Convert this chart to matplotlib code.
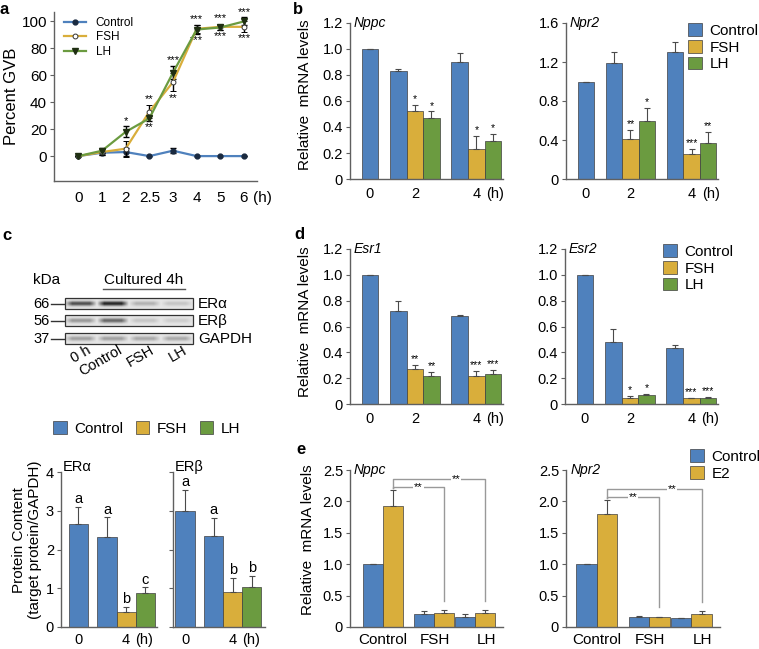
import numpy as np
import matplotlib
matplotlib.use('Agg')
import matplotlib.pyplot as plt
from matplotlib.patches import Patch, Rectangle
from matplotlib.lines import Line2D

plt.rcParams['font.family'] = ['Liberation Sans', 'DejaVu Sans']

W, H = 759, 649

BLUE = '#4f81bd'
GOLD = '#d9ae3b'
GREEN = '#6b9b40'
AXC = '#606060'

# ---- panel a: percent GVB over time
gvb_times = ['0', '1', '2', '2.5', '3', '4', '5', '6']
gvb_control = [0, 2.5, 3, 0, 4, 0, 0, 0]
gvb_control_err = [0, 2, 3, 0, 2, 0, 0, 0]
gvb_fsh = [0, 3, 5.5, 33, 55, 94.5, 96, 96]
gvb_fsh_err = [0, 2, 6, 5, 7, 3, 2, 4]
gvb_lh = [0, 4, 18, 28, 62, 94, 95.5, 100]
gvb_lh_err = [0, 2, 4, 2, 5, 3, 2, 3]
gvb_stars_above = ['', '', '*', '**', '***', '***', '***', '***']
gvb_stars_below = ['', '', '', '**', '**', '***', '***', '***']

# ---- panels b and d: mRNA time course (0, 2, 4 h)
time_labels = ['0', '2', '4']
nppc_ctrl = [1.0, 0.83, 0.90]
nppc_ctrl_err = [0, 0.02, 0.07]
nppc_fsh = [0.52, 0.23]
nppc_fsh_err = [0.05, 0.10]
nppc_lh = [0.47, 0.29]
nppc_lh_err = [0.05, 0.06]
nppc_fsh_stars = ['*', '*']
nppc_lh_stars = ['*', '*']

npr2_ctrl = [1.0, 1.19, 1.30]
npr2_ctrl_err = [0, 0.11, 0.11]
npr2_fsh = [0.41, 0.26]
npr2_fsh_err = [0.09, 0.05]
npr2_lh = [0.59, 0.37]
npr2_lh_err = [0.14, 0.11]
npr2_fsh_stars = ['**', '***']
npr2_lh_stars = ['*', '**']

esr1_ctrl = [1.0, 0.72, 0.68]
esr1_ctrl_err = [0, 0.08, 0.01]
esr1_fsh = [0.27, 0.22]
esr1_fsh_err = [0.03, 0.035]
esr1_lh = [0.22, 0.23]
esr1_lh_err = [0.03, 0.035]
esr1_fsh_stars = ['**', '***']
esr1_lh_stars = ['**', '***']

esr2_ctrl = [1.0, 0.48, 0.43]
esr2_ctrl_err = [0, 0.10, 0.03]
esr2_fsh = [0.05, 0.044]
esr2_fsh_err = [0.01, 0.006]
esr2_lh = [0.067, 0.046]
esr2_lh_err = [0.01, 0.01]
esr2_fsh_stars = ['*', '***']
esr2_lh_stars = ['*', '***']

# ---- panel c: western blot and protein content
blot_rows = ['ERα', 'ERβ', 'GAPDH']
blot_kda = ['66', '56', '37']
blot_lanes = ['0 h', 'Control', 'FSH', 'LH']
blot_era = [0.75, 0.95, 0.25, 0.16]
blot_erb = [0.38, 0.62, 0.16, 0.12]
blot_gapdh = [0.34, 0.34, 0.30, 0.30]

prot_groups = ['0', '4']
era_vals = [2.67, 2.33, 0.38, 0.87]
era_err = [0.42, 0.50, 0.13, 0.15]
era_letters = ['a', 'a', 'b', 'c']
erb_vals = [3.00, 2.35, 0.90, 1.03]
erb_err = [0.54, 0.47, 0.36, 0.28]
erb_letters = ['a', 'a', 'b', 'b']

# ---- panel e: E2 treatment
e_groups = ['Control', 'FSH', 'LH']
e_nppc_ctrl = [1.0, 0.21, 0.16]
e_nppc_ctrl_err = [0, 0.05, 0.04]
e_nppc_e2 = [1.92, 0.22, 0.22]
e_nppc_e2_err = [0.26, 0.05, 0.05]
e_npr2_ctrl = [1.0, 0.16, 0.14]
e_npr2_ctrl_err = [0, 0.01, 0.01]
e_npr2_e2 = [1.80, 0.155, 0.20]
e_npr2_e2_err = [0.22, 0.01, 0.05]
e_stars = ['**', '**']

fig = plt.figure(figsize=(W / 100, H / 100), dpi=100)


def px_axes(left, top, right, bottom):
    return fig.add_axes([left / W, 1 - bottom / H, (right - left) / W, (bottom - top) / H])


def style(ax, size=10.5, xsize=None, xpad=5.5):
    for s in ['top', 'right']:
        ax.spines[s].set_visible(False)
    for s in ['left', 'bottom']:
        ax.spines[s].set_color(AXC)
        ax.spines[s].set_linewidth(1.0)
    ax.tick_params(axis='y', direction='out', length=3, width=0.8, color=AXC,
                   labelsize=size, pad=2)
    ax.tick_params(axis='x', length=0, labelsize=xsize or size, pad=xpad)


def fmt_ticks(ax, ticks, nd=1):
    ax.set_yticks(ticks)
    ax.set_yticklabels(['0' if t == 0 else f'{t:.{nd}f}' for t in ticks])


def draw_bars(ax, xs, vals, errs, color, width):
    ax.bar(xs, vals, width=width, color=color, edgecolor='#3f3f3f', linewidth=0.5, zorder=2)
    ax.errorbar(xs, vals, yerr=[np.zeros(len(vals)), errs], fmt='none', ecolor='#4a4a4a',
                elinewidth=0.8, capsize=2.5, capthick=0.8, zorder=3)


# ================= panel a
ax = px_axes(54, 12, 257, 181)
style(ax, size=11, xpad=7)
xi = np.arange(len(gvb_times))
ax.errorbar(xi, gvb_control, yerr=gvb_control_err, color=BLUE, lw=1.6, marker='o', ms=3.5,
            mfc='#1a2a40', mec='#1a2a40', ecolor='black', elinewidth=1, capsize=2, label='Control', zorder=3)
ax.errorbar(xi, gvb_fsh, yerr=gvb_fsh_err, color=GOLD, lw=1.6, marker='o', ms=3.5,
            mfc='white', mec='#333333', mew=0.7, ecolor='black', elinewidth=1, capsize=2, label='FSH', zorder=4)
ax.errorbar(xi, gvb_lh, yerr=gvb_lh_err, color=GREEN, lw=1.6, marker='v', ms=4,
            mfc='#1f2f12', mec='#1f2f12', ecolor='black', elinewidth=1, capsize=2, label='LH', zorder=4)
for i in range(len(gvb_times)):
    top = max(gvb_fsh[i] + gvb_fsh_err[i], gvb_lh[i] + gvb_lh_err[i])
    bot = min(gvb_fsh[i] - gvb_fsh_err[i], gvb_lh[i] - gvb_lh_err[i])
    if gvb_stars_above[i]:
        ax.text(i, top + 0.5, gvb_stars_above[i], ha='center', va='bottom', fontsize=8)
    if gvb_stars_below[i]:
        ax.text(i, bot - 1, gvb_stars_below[i], ha='center', va='top', fontsize=8)
ax.set_xticks(xi)
ax.set_xticklabels(gvb_times)
ax.text(7.8, -10 / 169, '(h)', transform=ax.get_xaxis_transform(), ha='center', va='top', fontsize=11)
ax.set_yticks([0, 20, 40, 60, 80, 100])
ax.set_xlim(-1.03, 7.55)
ax.set_ylim(-18.5, 107)
handles_a = [Line2D([], [], color=BLUE, lw=1.6, marker='o', ms=3.5, mfc='#1a2a40', mec='#1a2a40'),
             Line2D([], [], color=GOLD, lw=1.6, marker='o', ms=3.5, mfc='white', mec='#333333', mew=0.7),
             Line2D([], [], color=GREEN, lw=1.6, marker='v', ms=4, mfc='#1f2f12', mec='#1f2f12')]
ax.legend(handles_a, ['Control', 'FSH', 'LH'], loc='upper left', bbox_to_anchor=(64 / W, 1 - 17 / H),
          bbox_transform=fig.transFigure, frameon=False, fontsize=8.5, handlelength=1.9,
          handletextpad=0.8, labelspacing=0.2, borderpad=0, borderaxespad=0)
fig.text(12 / W, 1 - 96 / H, 'Percent GVB', rotation=90, ha='center', va='center', fontsize=12)


# ================= panels b and d
def timecourse(box, ctrl, ctrl_err, fsh, fsh_err, lh, lh_err, fsh_st, lh_st, ymax, ticks, gene):
    ax = px_axes(*box)
    style(ax)
    ctrl_x = [0, 1.7, 5.4]
    fsh_x = [2.7, 6.4]
    lh_x = [3.7, 7.4]
    draw_bars(ax, ctrl_x, ctrl, ctrl_err, BLUE, 1.0)
    draw_bars(ax, fsh_x, fsh, fsh_err, GOLD, 1.0)
    draw_bars(ax, lh_x, lh, lh_err, GREEN, 1.0)
    for xs, vals, errs, st in [(fsh_x, fsh, fsh_err, fsh_st), (lh_x, lh, lh_err, lh_st)]:
        for x, v, e, s in zip(xs, vals, errs, st):
            ax.text(x, v + e + ymax * 0.005, s, ha='center', va='bottom', fontsize=7.5)
    ax.set_xticks([0, 2.7, 6.4, 7.55])
    ax.set_xticklabels(time_labels + ['(h)'])
    fmt_ticks(ax, ticks)
    ax.set_xlim(-1.2, 8.0)
    ax.set_ylim(0, ymax)
    ax.text(-1.0, ymax, gene, ha='left', va='center', fontsize=10, style='italic')
    return ax


timecourse((350, 23, 503, 179), nppc_ctrl, nppc_ctrl_err, nppc_fsh, nppc_fsh_err, nppc_lh, nppc_lh_err,
           nppc_fsh_stars, nppc_lh_stars, 1.2, [0, 0.2, 0.4, 0.6, 0.8, 1.0, 1.2], 'Nppc')
timecourse((566, 23, 718, 179), npr2_ctrl, npr2_ctrl_err, npr2_fsh, npr2_fsh_err, npr2_lh, npr2_lh_err,
           npr2_fsh_stars, npr2_lh_stars, 1.6, [0, 0.4, 0.8, 1.2, 1.6], 'Npr2')
timecourse((350, 249, 503, 404), esr1_ctrl, esr1_ctrl_err, esr1_fsh, esr1_fsh_err, esr1_lh, esr1_lh_err,
           esr1_fsh_stars, esr1_lh_stars, 1.2, [0, 0.2, 0.4, 0.6, 0.8, 1.0, 1.2], 'Esr1')
timecourse((565, 249, 718, 404), esr2_ctrl, esr2_ctrl_err, esr2_fsh, esr2_fsh_err, esr2_lh, esr2_lh_err,
           esr2_fsh_stars, esr2_lh_stars, 1.2, [0, 0.2, 0.4, 0.6, 0.8, 1.0, 1.2], 'Esr2')

bar_handles = [Patch(facecolor=c, edgecolor='#3f3f3f', linewidth=0.5) for c in (BLUE, GOLD, GREEN)]
leg_kw = dict(frameon=False, fontsize=11, handlelength=0.9, handleheight=0.9, handletextpad=0.5,
              labelspacing=0.15, borderpad=0, borderaxespad=0)
fig.legend(bar_handles, ['Control', 'FSH', 'LH'], loc='upper left',
           bbox_to_anchor=(688 / W, 1 - 23 / H), **leg_kw)
fig.legend(bar_handles, ['Control', 'FSH', 'LH'], loc='upper left',
           bbox_to_anchor=(663 / W, 1 - 244 / H), **leg_kw)
fig.text(305 / W, 1 - 95 / H, 'Relative  mRNA levels', rotation=90, ha='center', va='center', fontsize=11)
fig.text(305 / W, 1 - 322 / H, 'Relative  mRNA levels', rotation=90, ha='center', va='center', fontsize=11)

# ================= panel c: blot
axb = px_axes(0, 265, 260, 380)
axb.axis('off')


def band_image(levels, ncols=128, nrows=14):
    x = (np.arange(ncols) + 0.5) / ncols * len(levels)
    lane = np.clip(x.astype(int), 0, len(levels) - 1)
    frac = x - np.floor(x)
    horiz = np.clip(np.sin(np.pi * frac) * 1.5, 0, 1)
    dark = np.array(levels)[lane] * horiz
    y = np.linspace(-1, 1, nrows)
    vert = np.exp(-(y / 0.45) ** 2)
    return 0.9 - 0.8 * np.outer(vert, dark)


strip_x0, strip_x1 = 65, 193
strip_tops = [298, 315, 333]
strip_h = 11
for name, kda, levels, top in zip(blot_rows, blot_kda, [blot_era, blot_erb, blot_gapdh], strip_tops):
    axb.imshow(band_image(levels), cmap='gray', vmin=0, vmax=1, aspect='auto', interpolation='bilinear',
               extent=(strip_x0, strip_x1, top + strip_h, top))
    axb.add_patch(Rectangle((strip_x0, top), strip_x1 - strip_x0, strip_h, fill=False,
                            edgecolor='#333333', lw=0.9))
    yc = top + strip_h / 2
    axb.text(50, yc, kda, ha='right', va='center', fontsize=10.5)
    axb.plot([51, 64], [yc, yc], color='#333333', lw=1)
    axb.text(198, yc, name, ha='left', va='center', fontsize=11)
lane_w = (strip_x1 - strip_x0) / len(blot_lanes)
for i, lab in enumerate(blot_lanes):
    axb.text(strip_x0 + lane_w * (i + 0.5) + 5, 343, lab, rotation=30, rotation_mode='anchor',
             ha='right', va='top', fontsize=10.5)
axb.text(33, 280, 'kDa', ha='left', va='center', fontsize=11)
axb.text(144, 280, 'Cultured 4h', ha='center', va='center', fontsize=11)
axb.plot([103, 185], [289, 289], color='#555555', lw=1)
axb.set_xlim(0, 260)
axb.set_ylim(380, 265)

# ================= panel c: protein content


def protein(box, vals, errs, letters, title, xlim, show_labels):
    ax = px_axes(*box)
    style(ax, xpad=4)
    xs = [0, 1.5, 2.5, 3.5]
    colors = [BLUE, BLUE, GOLD, GREEN]
    for x, v, e, c in zip(xs, vals, errs, colors):
        draw_bars(ax, [x], [v], [e], c, 1.0)
    for x, v, e, l in zip(xs, vals, errs, letters):
        ax.text(x, v + e + 0.02, l, ha='center', va='bottom', fontsize=10.5)
    ax.set_xticks([0, 2.5, 3.45])
    ax.set_xticklabels(prot_groups + ['(h)'])
    ax.set_yticks([0, 1, 2, 3, 4])
    if not show_labels:
        ax.set_yticklabels([])
    ax.set_xlim(*xlim)
    ax.set_ylim(0, 4)
    ax.text(xlim[0] + 0.08, 4.12, title, ha='left', va='center', fontsize=10.5)


protein((61, 472, 157, 627), era_vals, era_err, era_letters, 'ERα', (-0.92, 4.13), True)
protein((173, 472, 265, 627), erb_vals, erb_err, erb_letters, 'ERβ', (-0.63, 4.2), False)
fig.legend(bar_handles, ['Control', 'FSH', 'LH'], loc='upper left', ncol=3, columnspacing=0.8,
           bbox_to_anchor=(53 / W, 1 - 421 / H), **leg_kw)
fig.text(27 / W, 1 - 540 / H, 'Protein Content\n(target protein/GAPDH)', rotation=90,
         ha='center', va='center', fontsize=11, multialignment='center', linespacing=1.1)


# ================= panel e
def e2_panel(box, ctrl, ctrl_err, e2, e2_err, gene, xlim):
    ax = px_axes(*box)
    style(ax, xsize=11, xpad=4)
    centers = np.array([0, 2.55, 4.6])
    cx = centers - 0.5
    ex = centers + 0.5
    draw_bars(ax, cx, ctrl, ctrl_err, BLUE, 1.0)
    draw_bars(ax, ex, e2, e2_err, GOLD, 1.0)
    top = e2[0] + e2_err[0]
    lo, hi = top + 0.05, top + 0.17
    for k, level in zip([1, 2], [lo, hi]):
        tgt = e2[k] + e2_err[k] + 0.15
        ax.plot([ex[0], ex[0], ex[k], ex[k]], [top + 0.03, level, level, tgt],
                color='#999999', lw=1, zorder=1)
    ax.text((ex[0] + ex[1]) / 2, lo, e_stars[0], ha='center', va='center', fontsize=8,
            bbox=dict(facecolor='white', edgecolor='none', pad=0.5), zorder=2)
    ax.text(ex[1] + 0.3 * (ex[2] - ex[1]), hi, e_stars[1], ha='center', va='center', fontsize=8,
            bbox=dict(facecolor='white', edgecolor='none', pad=0.5), zorder=2)
    ax.set_xticks([0, 2.6, 5.15])
    ax.set_xticklabels(e_groups)
    fmt_ticks(ax, [0, 0.5, 1.0, 1.5, 2.0, 2.5])
    ax.set_xlim(*xlim)
    ax.set_ylim(0, 2.5)
    ax.text(xlim[0] + 0.2, 2.5, gene, ha='left', va='center', fontsize=10, style='italic')


e2_panel((350, 470, 503, 627), e_nppc_ctrl, e_nppc_ctrl_err, e_nppc_e2, e_nppc_e2_err, 'Nppc', (-1.65, 6.0))
e2_panel((566, 470, 720, 627), e_npr2_ctrl, e_npr2_ctrl_err, e_npr2_e2, e_npr2_e2_err, 'Npr2', (-1.5, 6.0))
fig.legend(bar_handles[:2], ['Control', 'E2'], loc='upper left',
           bbox_to_anchor=(690 / W, 1 - 449 / H), **leg_kw)
fig.text(308 / W, 1 - 540 / H, 'Relative  mRNA levels', rotation=90, ha='center', va='center', fontsize=11)

# panel letters
for lab, x, y in [('a', 4, 10), ('b', 298, 9), ('c', 7, 235), ('d', 299, 234), ('e', 301, 450)]:
    fig.text(x / W, 1 - y / H, lab, fontsize=12, fontweight='bold', ha='center', va='center')

fig.savefig('out.png', dpi=100)
